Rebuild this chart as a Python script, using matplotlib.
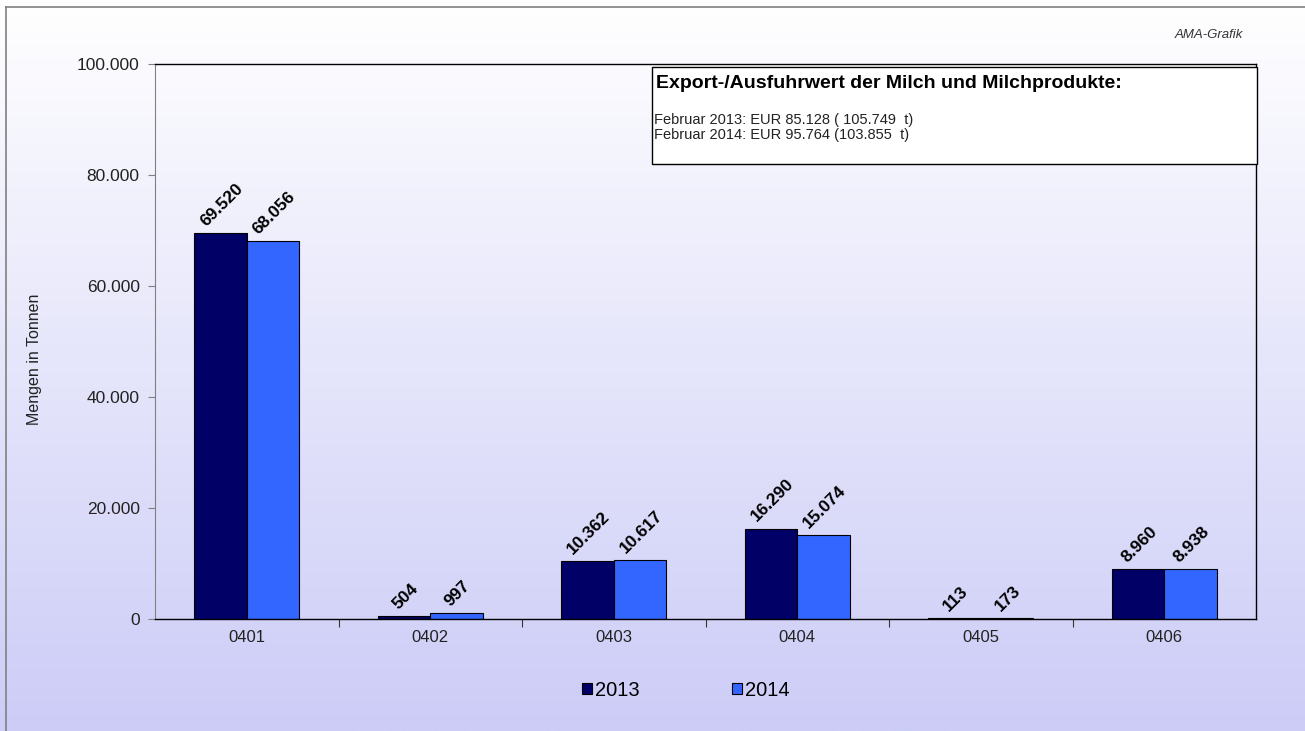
import numpy as np
import matplotlib
matplotlib.use("Agg")
import matplotlib.pyplot as plt
from matplotlib.patches import Rectangle, Patch

plt.rcParams['font.family'] = ['Liberation Sans', 'DejaVu Sans']

categories = ["0401", "0402", "0403", "0404", "0405", "0406"]
series_names = ["2013", "2014"]
values_2013 = [69520, 504, 10362, 16290, 113, 8960]
values_2014 = [68056, 997, 10617, 15074, 173, 8938]
labels_2013 = ["69.520", "504", "10.362", "16.290", "113", "8.960"]
labels_2014 = ["68.056", "997", "10.617", "15.074", "173", "8.938"]
yticks = [0, 20000, 40000, 60000, 80000, 100000]
ytick_labels = ["0", "20.000", "40.000", "60.000", "80.000", "100.000"]
colors = ["#000066", "#3366ff"]

W, H = 1305, 731
fig = plt.figure(figsize=(W / 100, H / 100), dpi=100)

# background gradient
bg = fig.add_axes([0, 0, 1, 1], zorder=-10)
grad = np.linspace(0, 1, 256)[:, None]
top = np.array([1.0, 1.0, 1.0])
bot = np.array([0.80, 0.80, 0.97])
img = top[None, None, :] * (1 - grad[:, :, None]) + bot[None, None, :] * grad[:, :, None]
bg.imshow(img, aspect='auto', extent=[0, 1, 0, 1], origin='upper')
bg.set_xlim(0, 1); bg.set_ylim(0, 1)
bg.axis('off')
bg.plot([6 / W, 6 / W], [0, 1 - 7 / H], color='#808080', lw=1.2)
bg.plot([6 / W, 1], [1 - 7 / H, 1 - 7 / H], color='#808080', lw=1.2)

ax = fig.add_axes([155 / W, 1 - 619 / H, (1256 - 155) / W, (619 - 64) / H])
ax.patch.set_alpha(0)

x = np.arange(len(categories))
bw = 0.285
ax.bar(x - bw / 2, values_2013, bw, color=colors[0], edgecolor='black', linewidth=0.8, label=series_names[0])
ax.bar(x + bw / 2, values_2014, bw, color=colors[1], edgecolor='black', linewidth=0.8, label=series_names[1])

for xs, vals, labs in [(x - bw / 2, values_2013, labels_2013), (x + bw / 2, values_2014, labels_2014)]:
    for xi, v, lab in zip(xs, vals, labs):
        ax.annotate(lab, (xi, v), xytext=(1, 3), textcoords='offset points', rotation=45,
                    ha='center', va='bottom', fontsize=12.5, fontweight='bold', color='black')

ax.set_xlim(-0.5, len(categories) - 0.5)
ax.set_ylim(0, 100000)
ax.set_yticks(yticks)
ax.set_yticklabels(ytick_labels, fontsize=12.5, color='#222222')
ax.set_xticks(np.arange(0.5, len(categories) - 0.5, 1.0))
ax.set_xticklabels([])
ax.set_xticks(x, minor=True)
ax.set_xticklabels(categories, minor=True, fontsize=12, color='#222222')
ax.tick_params(axis='x', which='minor', length=0, pad=8)
ax.tick_params(axis='x', which='major', length=6, direction='out', color='#333333')
ax.tick_params(axis='y', length=5, direction='out', color='#808080', pad=6)
for s in ['top', 'right', 'bottom']:
    ax.spines[s].set_color('black')
    ax.spines[s].set_linewidth(1.0)
ax.spines['left'].set_color('#808080')
ax.set_ylabel("Mengen in Tonnen", fontsize=11.5, color='#222222')
ax.yaxis.set_label_coords((42 - 155) / (1256 - 155), (619 - 359) / (619 - 64))

# info box
fig.patches.append(Rectangle((652 / W, 1 - 164 / H), (1257 - 652) / W, (164 - 67) / H,
                             transform=fig.transFigure, facecolor='white', edgecolor='black',
                             linewidth=1.0, zorder=5))
fig.text(656 / W, 1 - 83 / H, "Export-/Ausfuhrwert der Milch und Milchprodukte:", fontsize=14,
         fontweight='bold', va='center', ha='left', zorder=6)
fig.text(654 / W, 1 - 120 / H, "Februar 2013: EUR 85.128 ( 105.749  t)", fontsize=10.5,
         va='center', ha='left', zorder=6, color='#222222')
fig.text(654 / W, 1 - 135.5 / H, "Februar 2014: EUR 95.764 (103.855  t)", fontsize=10.5,
         va='center', ha='left', zorder=6, color='#222222')

fig.text(1243 / W, 1 - 35 / H, "AMA-Grafik", fontsize=9.5, style='italic', ha='right', va='center',
         color='#333333')

handles = [Patch(facecolor=colors[0], edgecolor='black', linewidth=0.8),
           Patch(facecolor=colors[1], edgecolor='black', linewidth=0.8)]
fig.legend(handles, series_names, loc='center', bbox_to_anchor=(686 / W, 1 - 690 / H), ncol=2,
           frameon=False, fontsize=14.5, handlelength=0.5, handleheight=0.5, handletextpad=0.15,
           columnspacing=4.6)

fig.savefig("out.png", dpi=100)
